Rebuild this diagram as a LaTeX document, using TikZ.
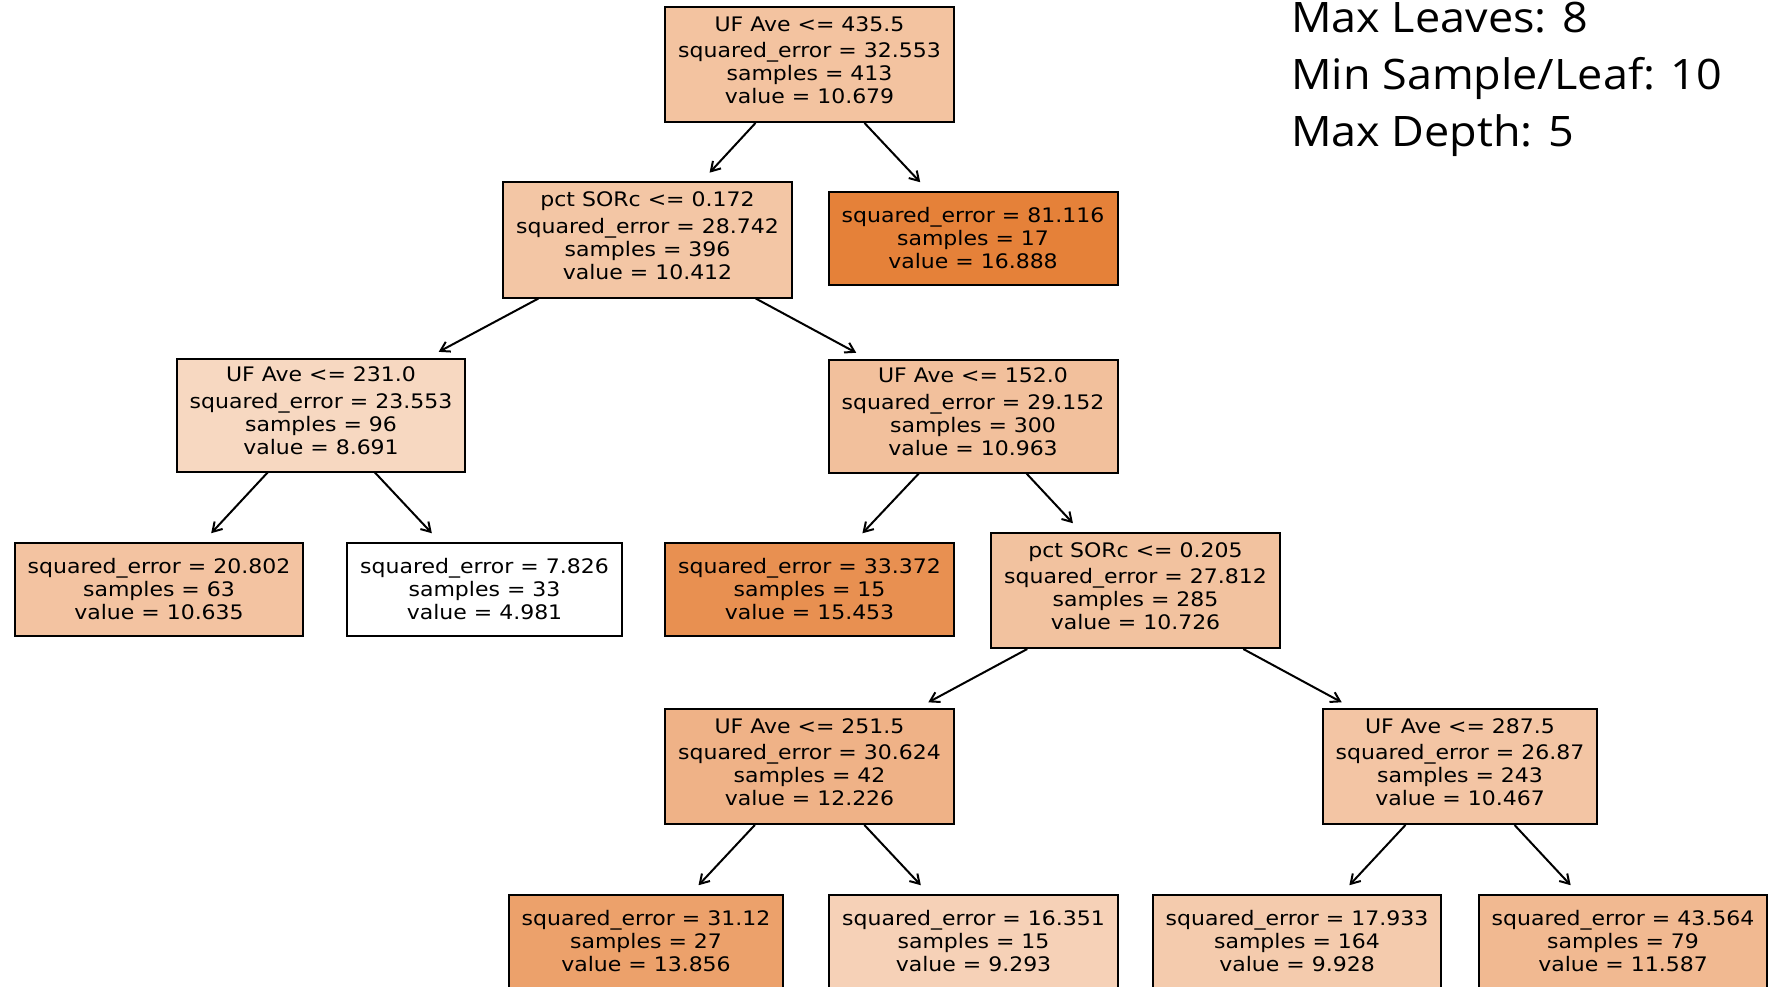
\documentclass[tikz,border=0pt]{standalone}
\usepackage{fontspec}
\usetikzlibrary{arrows.meta}
\newfontfamily\treefont[FakeStretch=1.1]{DejaVu Sans}
\newfontfamily\notefont[FakeStretch=1.07]{Open Sans}
\definecolor{orng}{RGB}{229,129,57}
\tikzset{
  box/.style={draw=black, line width=2pt, rectangle, inner sep=0pt,
    align=center, text=black,
    font=\treefont\fontsize{20}{23}\selectfont},
  split/.style={box, minimum height=115pt, text depth=9pt},
  leaf/.style={box, minimum height=93pt},
  edge/.style={draw=black, line width=2pt, shorten >=12pt,
    -{Straight Barb[length=9pt,width=11pt]}},
  note/.style={anchor=base west, inner sep=0pt,
    font=\notefont\fontsize{42}{50}\selectfont}
}
\begin{document}
\begin{tikzpicture}[x=1pt,y=-1pt]
\useasboundingbox (0,0) rectangle (1774,987);
\clip (0,0) rectangle (1774,987);

% tree nodes, fill strength follows the node value
\node[split, minimum width=289pt, fill=orng!47.86!white] (root) at (809.5,64.5)
  {UF Ave <= 435.5\\[3.5pt]squared\_error = 32.553\\samples = 413\\value = 10.679};
\node[split, minimum width=289pt, fill=orng!45.61!white] (n1) at (647.5,240)
  {pct SORc <= 0.172\\[3.5pt]squared\_error = 28.742\\samples = 396\\value = 10.412};
\node[leaf, minimum width=289pt, fill=orng] (l1) at (973,238.5)
  {squared\_error = 81.116\\samples = 17\\value = 16.888};
\node[split, minimum width=288pt, minimum height=113pt, fill=orng!31.16!white] (n2) at (321,415)
  {UF Ave <= 231.0\\[3.5pt]squared\_error = 23.553\\samples = 96\\value = 8.691};
\node[split, minimum width=289pt, minimum height=113pt, fill=orng!50.24!white] (n3) at (973,416)
  {UF Ave <= 152.0\\[3.5pt]squared\_error = 29.152\\samples = 300\\value = 10.963};
\node[leaf, minimum width=288pt, fill=orng!47.48!white] (l2) at (159,589.5)
  {squared\_error = 20.802\\samples = 63\\value = 10.635};
\node[leaf, minimum width=275pt, fill=white] (l3) at (484.5,589.5)
  {squared\_error = 7.826\\samples = 33\\value = 4.981};
\node[leaf, minimum width=289pt, fill=orng!87.95!white] (l4) at (809.5,589.5)
  {squared\_error = 33.372\\samples = 15\\value = 15.453};
\node[split, minimum width=289pt, fill=orng!48.25!white] (n4) at (1135.5,590.5)
  {pct SORc <= 0.205\\[3.5pt]squared\_error = 27.812\\samples = 285\\value = 10.726};
\node[split, minimum width=289pt, fill=orng!60.85!white] (n5) at (809.5,766.5)
  {UF Ave <= 251.5\\[3.5pt]squared\_error = 30.624\\samples = 42\\value = 12.226};
\node[split, minimum width=274pt, fill=orng!46.07!white] (n6) at (1460,766.5)
  {UF Ave <= 287.5\\[3.5pt]squared\_error = 26.87\\samples = 243\\value = 10.467};
\node[leaf, minimum width=274pt, fill=orng!74.54!white] (l5) at (646,941.5)
  {squared\_error = 31.12\\samples = 27\\value = 13.856};
\node[leaf, minimum width=289pt, fill=orng!36.21!white] (l6) at (973.5,941.5)
  {squared\_error = 16.351\\samples = 15\\value = 9.293};
\node[leaf, minimum width=288pt, fill=orng!41.55!white] (l7) at (1297,941.5)
  {squared\_error = 17.933\\samples = 164\\value = 9.928};
\node[leaf, minimum width=288pt, fill=orng!55.48!white] (l8) at (1623,941.5)
  {squared\_error = 43.564\\samples = 79\\value = 11.587};

% parent-to-child arrows
\draw[edge] (root) -- (n1);
\draw[edge] (root) -- (l1);
\draw[edge] (n1) -- (n2);
\draw[edge] (n1) -- (n3);
\draw[edge] (n2) -- (l2);
\draw[edge] (n2) -- (l3);
\draw[edge] (n3) -- (l4);
\draw[edge] (n3) -- (n4);
\draw[edge] (n4) -- (n5);
\draw[edge] (n4) -- (n6);
\draw[edge] (n5) -- (l5);
\draw[edge] (n5) -- (l6);
\draw[edge] (n6) -- (l7);
\draw[edge] (n6) -- (l8);

% model settings
\node[note] (leaves) at (1291,33) {Max Leaves: 8};
\node[note] (minleaf) at (1291,90) {Min Sample/Leaf: 10};
\node[note] (depth) at (1291,147) {Max Depth: 5};
\end{tikzpicture}
\end{document}
